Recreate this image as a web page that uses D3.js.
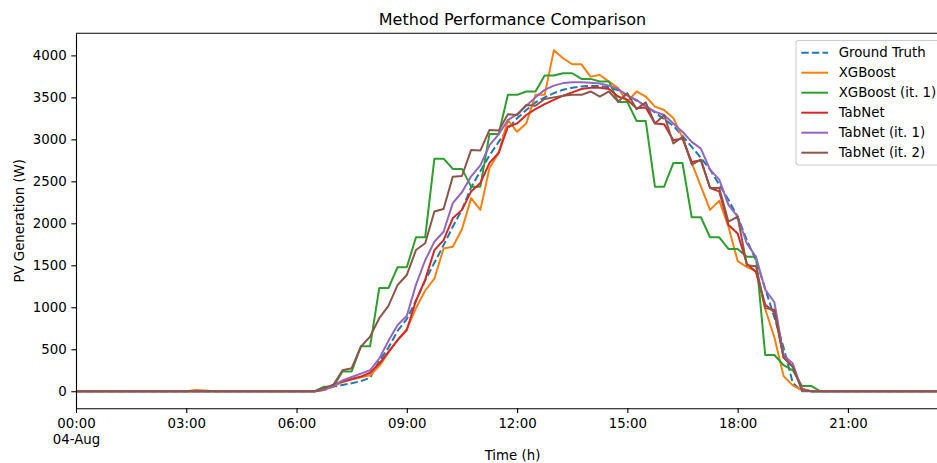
<!DOCTYPE html>
<html>
<head>
<meta charset="utf-8">
<script src="https://cdn.jsdelivr.net/npm/d3@7"></script>
<style>
  body { margin: 0; background: #fff; }
  svg { display: block; font-family: "DejaVu Sans", sans-serif; }
</style>
</head>
<body>
<div id="container"></div>
<script>
// 15-minute PV readings for 04-Aug, 00:00 .. 23:45 (W)
const groundTruth = [
  0, 0, 0, 0, 0, 0, 0, 0, 0, 0, 0, 0,
  0, 0, 0, 0, 0, 0, 0, 0, 0, 0, 0, 0,
  0, 0, 0, 15, 55, 75, 95, 120, 160, 360, 520, 720,
  860, 1080, 1320, 1530, 1740, 1960, 2160, 2430, 2620, 2810, 2970, 3130,
  3250, 3350, 3440, 3500, 3550, 3590, 3615, 3630, 3636, 3636, 3620, 3585,
  3530, 3460, 3400, 3320, 3240, 3160, 3040, 2910, 2780, 2640, 2460, 2280,
  2080, 1800, 1560, 1220, 880, 520, 100, 0, 0, 0, 0, 0,
  0, 0, 0, 0, 0, 0, 0, 0, 0, 0, 0, 0,
];
const xgboost = [
  0, 0, 0, 0, 0, 0, 0, 0, 0, 0, 0, 0,
  0, 15, 10, 0, 0, 0, 0, 0, 0, 0, 0, 0,
  0, 0, 0, 15, 60, 110, 140, 165, 190, 300, 460, 610,
  740, 990, 1200, 1340, 1700, 1720, 1930, 2300, 2160, 2660, 2840, 3230,
  3090, 3190, 3530, 3530, 4060, 3966, 3894, 3894, 3747, 3767, 3687, 3610,
  3450, 3570, 3510, 3390, 3350, 3255, 3020, 2720, 2440, 2160, 2270, 1960,
  1550, 1480, 1430, 980, 640, 180, 70, 10, 0, 0, 0, 0,
  0, 0, 0, 0, 0, 0, 0, 0, 0, 0, 0, 0,
];
const xgboostIt1 = [
  0, 0, 0, 0, 0, 0, 0, 0, 0, 0, 0, 0,
  0, 0, 0, 0, 0, 0, 0, 0, 0, 0, 0, 0,
  0, 0, 0, 55, 55, 235, 235, 535, 535, 1230, 1230, 1478,
  1478, 1835, 1835, 2770, 2770, 2648, 2648, 2437, 2437, 3065, 3065, 3530,
  3530, 3570, 3570, 3760, 3760, 3787, 3787, 3720, 3720, 3690, 3690, 3445,
  3445, 3220, 3220, 2437, 2437, 2718, 2718, 2072, 2072, 1834, 1834, 1695,
  1695, 1603, 1603, 432, 432, 310, 250, 63, 63, 0, 0, 0,
  0, 0, 0, 0, 0, 0, 0, 0, 0, 0, 0, 0,
];
const tabnet = [
  0, 0, 0, 0, 0, 0, 0, 0, 0, 0, 0, 0,
  0, 0, 0, 0, 0, 0, 0, 0, 0, 0, 0, 0,
  0, 0, 0, 20, 80, 115, 145, 175, 220, 330, 470, 610,
  730, 1080, 1330, 1680, 1800, 2060, 2160, 2380, 2480, 2720, 2840, 3150,
  3190, 3290, 3360, 3420, 3470, 3520, 3560, 3600, 3615, 3615, 3600, 3510,
  3470, 3370, 3380, 3190, 3180, 2990, 3010, 2730, 2750, 2420, 2380, 1980,
  1880, 1520, 1420, 1030, 940, 400, 290, 30, 0, 0, 0, 0,
  0, 0, 0, 0, 0, 0, 0, 0, 0, 0, 0, 0,
];
const tabnetIt1 = [
  0, 0, 0, 0, 0, 0, 0, 0, 0, 0, 0, 0,
  0, 0, 0, 0, 0, 0, 0, 0, 0, 0, 0, 0,
  0, 0, 0, 20, 60, 130, 170, 210, 250, 390, 600, 790,
  900, 1270, 1560, 1780, 1900, 2240, 2370, 2560, 2690, 2930, 3060, 3230,
  3300, 3400, 3500, 3590, 3640, 3670, 3680, 3680, 3675, 3665, 3640, 3600,
  3520, 3470, 3390, 3330, 3290, 3190, 3090, 2970, 2890, 2640, 2520, 2220,
  2080, 1760, 1600, 1210, 1060, 430, 330, 20, 0, 0, 0, 0,
  0, 0, 0, 0, 0, 0, 0, 0, 0, 0, 0, 0,
];
const tabnetIt2 = [
  0, 0, 0, 0, 0, 0, 0, 0, 0, 0, 0, 0,
  0, 0, 0, 0, 0, 0, 0, 0, 0, 0, 0, 0,
  0, 0, 0, 40, 75, 250, 275, 530, 650, 870, 1016, 1266,
  1385, 1683, 1763, 2140, 2170, 2556, 2564, 2874, 2866, 3112, 3104, 3300,
  3290, 3410, 3400, 3480, 3500, 3520, 3530, 3530, 3570, 3510, 3570, 3450,
  3550, 3360, 3440, 3190, 3290, 2950, 3030, 2700, 2760, 2420, 2420, 2020,
  2080, 1500, 1490, 990, 970, 400, 290, 10, 0, 0, 0, 0,
  0, 0, 0, 0, 0, 0, 0, 0, 0, 0, 0, 0,
];

const seriesNames = ['Ground Truth', 'XGBoost', 'XGBoost (it. 1)', 'TabNet', 'TabNet (it. 1)', 'TabNet (it. 2)'];
const seriesValues = [groundTruth, xgboost, xgboostIt1, tabnet, tabnetIt1, tabnetIt2];
const seriesColors = ['#1f77b4', '#ff7f0e', '#2ca02c', '#d62728', '#9467bd', '#8c564b'];
const seriesDashed = [true, false, false, false, false, false];

const dimensions = { x: 937, y: 463 };
const plot = { left: 76, right: 949, top: 33.3, bottom: 408.3 };
const fontSize = 13.33;
const tickLen = 4.67;
const lineWidth = 2;
const dash = '7.4,3.2';

const startTime = Date.UTC(2024, 7, 4, 0, 0);
const times = groundTruth.map((d, i) => new Date(startTime + i * 15 * 60 * 1000));

const svg = d3
  .select('#container')
  .append('svg')
  .attr('width', dimensions.x)
  .attr('height', dimensions.y);

const x = d3
  .scaleUtc()
  .domain(d3.extent(times))
  .range([plot.left, plot.right]);

// matplotlib style autoscale: 5% margin on each side
const allValues = seriesValues.flat();
const vMin = d3.min(allValues);
const vMax = d3.max(allValues);
const margin = (vMax - vMin) * 0.05;
const y = d3
  .scaleLinear()
  .domain([vMin - margin, vMax + margin])
  .range([plot.bottom, plot.top]);

svg
  .append('defs')
  .append('clipPath')
  .attr('id', 'plot-clip')
  .append('rect')
  .attr('x', plot.left)
  .attr('y', plot.top)
  .attr('width', plot.right - plot.left)
  .attr('height', plot.bottom - plot.top);

const line = d3
  .line()
  .x((d, i) => x(times[i]))
  .y((d) => y(d));

const lines = svg.append('g').attr('clip-path', 'url(#plot-clip)');
seriesValues.forEach((values, i) => {
  lines
    .append('path')
    .datum(values)
    .attr('d', line)
    .attr('fill', 'none')
    .attr('stroke', seriesColors[i])
    .attr('stroke-width', lineWidth)
    .attr('stroke-linejoin', 'round')
    .attr('stroke-dasharray', seriesDashed[i] ? dash : null);
});

// axes
const yAxis = d3
  .axisLeft(y)
  .ticks(10)
  .tickFormat(d3.format('d'))
  .tickSize(tickLen)
  .tickSizeOuter(0)
  .tickPadding(tickLen);

svg
  .append('g')
  .attr('transform', 'translate(' + plot.left + ',0)')
  .call(yAxis)
  .call((g) => {
    g.selectAll('text').attr('font-size', fontSize).attr('font-family', 'DejaVu Sans').attr('fill', '#000');
    g.selectAll('line, path').attr('stroke', '#000').attr('stroke-width', 1.1);
  });

const xAxis = d3
  .axisBottom(x)
  .ticks(d3.utcHour.every(3))
  .tickFormat(d3.utcFormat('%H:%M'))
  .tickSize(tickLen)
  .tickSizeOuter(0)
  .tickPadding(tickLen);

svg
  .append('g')
  .attr('transform', 'translate(0,' + plot.bottom + ')')
  .call(xAxis)
  .call((g) => {
    g.selectAll('text')
      .attr('font-size', fontSize)
      .attr('font-family', 'DejaVu Sans')
      .attr('fill', '#000')
      .attr('dy', null)
      .attr('y', 428.5 - plot.bottom);
    g.selectAll('line, path').attr('stroke', '#000').attr('stroke-width', 1.1);
    g.select('.tick text')
      .append('tspan')
      .attr('x', 0)
      .attr('y', 444 - plot.bottom)
      .text(d3.utcFormat('%d-%b')(times[0]));
  });

// top spine
svg
  .append('line')
  .attr('x1', plot.left)
  .attr('x2', plot.right)
  .attr('y1', plot.top)
  .attr('y2', plot.top)
  .attr('stroke', '#000')
  .attr('stroke-width', 1.1);

svg
  .append('text')
  .attr('x', (plot.left + plot.right) / 2)
  .attr('y', 25)
  .attr('text-anchor', 'middle')
  .attr('font-size', 16)
  .text('Method Performance Comparison');

svg
  .append('text')
  .attr('x', (plot.left + plot.right) / 2)
  .attr('y', 459.5)
  .attr('text-anchor', 'middle')
  .attr('font-size', fontSize)
  .text('Time (h)');

svg
  .append('text')
  .attr('transform', 'translate(19,' + (plot.top + plot.bottom) / 2 + ') rotate(-90)')
  .attr('dy', '0.35em')
  .attr('text-anchor', 'middle')
  .attr('font-size', fontSize)
  .text('PV Generation (W)');

// legend
const legend = svg.append('g').attr('transform', 'translate(796, 40.5)');
legend
  .append('rect')
  .attr('width', 146)
  .attr('height', 124.5)
  .attr('rx', 2.7)
  .attr('fill', '#fff')
  .attr('fill-opacity', 0.8)
  .attr('stroke', '#cccccc')
  .attr('stroke-width', 1.1);

const legendItems = legend
  .selectAll('g.legend-item')
  .data(seriesNames)
  .enter()
  .append('g')
  .attr('class', 'legend-item')
  .attr('transform', (d, i) => 'translate(0,' + (12.2 + i * 20) + ')');

legendItems
  .append('line')
  .attr('x1', 5.3)
  .attr('x2', 32)
  .attr('stroke', (d, i) => seriesColors[i])
  .attr('stroke-width', lineWidth)
  .attr('stroke-dasharray', (d, i) => (seriesDashed[i] ? dash : null));

legendItems
  .append('text')
  .attr('x', 42.7)
  .attr('dy', '0.35em')
  .attr('font-size', fontSize)
  .text((d) => d);
</script>
</body>
</html>
